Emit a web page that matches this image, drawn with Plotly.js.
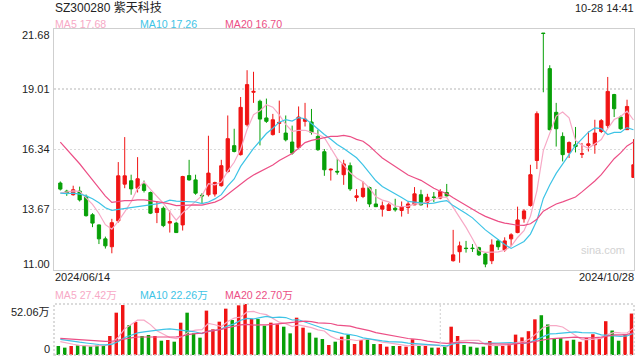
<!DOCTYPE html>
<html>
<head>
<meta charset="utf-8">
<script src="https://cdn.plot.ly/plotly-3.0.1.min.js"></script>
<style>html,body{margin:0;padding:0;background:#fff}#chart{width:640px;height:360px}</style>
</head>
<body>
<div id="chart"></div>
<script>
const dates = [
"2024/06/14","2024/06/17","2024/06/18","2024/06/19","2024/06/20","2024/06/21","2024/06/24","2024/06/25","2024/06/26","2024/06/27","2024/06/28",
"2024/07/01","2024/07/02","2024/07/03","2024/07/04","2024/07/05","2024/07/08","2024/07/09","2024/07/10","2024/07/11","2024/07/12",
"2024/07/15","2024/07/16","2024/07/17","2024/07/18","2024/07/19","2024/07/22","2024/07/23","2024/07/24","2024/07/25","2024/07/26",
"2024/07/29","2024/07/30","2024/07/31",
"2024/08/01","2024/08/02","2024/08/05","2024/08/06","2024/08/07","2024/08/08","2024/08/09","2024/08/12","2024/08/13","2024/08/14",
"2024/08/15","2024/08/16","2024/08/19","2024/08/20","2024/08/21","2024/08/22","2024/08/23","2024/08/26","2024/08/27","2024/08/28",
"2024/08/29","2024/08/30",
"2024/09/02","2024/09/03","2024/09/04","2024/09/05","2024/09/06","2024/09/09","2024/09/10","2024/09/11","2024/09/12","2024/09/13",
"2024/09/18","2024/09/19","2024/09/20","2024/09/23","2024/09/24","2024/09/25","2024/09/26","2024/09/27","2024/09/30",
"2024/10/08","2024/10/09","2024/10/10","2024/10/11","2024/10/14","2024/10/15","2024/10/16","2024/10/17","2024/10/18",
"2024/10/21","2024/10/22","2024/10/23","2024/10/24","2024/10/25","2024/10/28"];

const open = [14.84,14.48,14.32,14.48,14.25,13.43,12.98,12.36,12.01,13.16,14.79,14.94,14.61,14.80,14.42,13.53,13.72,13.06,13.06,12.98,
15.17,14.98,14.30,14.32,14.35,14.72,15.35,16.50,16.10,17.43,18.87,18.47,17.73,16.99,17.49,17.06,16.66,16.42,17.58,17.55,
16.91,16.23,15.42,15.36,15.21,15.61,14.20,14.24,14.64,13.91,13.68,13.62,13.72,13.62,13.75,13.87,14.32,13.99,14.22,14.17,
14.42,11.39,11.79,11.95,11.95,11.97,11.69,11.39,12.27,11.87,12.36,12.64,13.25,13.84,15.84,21.50,19.92,17.98,16.91,16.20,
16.54,16.12,16.51,16.54,17.13,17.39,18.77,17.77,17.21,15.09];
const high = [14.91,14.54,14.72,14.68,14.33,13.50,13.00,12.46,13.25,15.77,16.88,15.21,15.99,14.95,14.46,14.02,13.80,13.62,13.12,15.16,
15.87,15.21,14.39,16.94,14.90,15.87,17.84,17.25,18.66,19.85,19.78,18.54,18.59,17.91,18.50,17.84,17.39,18.24,18.40,18.13,
17.21,16.35,15.49,15.92,15.87,15.75,14.57,14.91,14.68,14.57,14.02,13.95,14.14,14.02,14.02,14.66,14.54,14.36,14.44,14.57,
14.80,12.76,12.24,12.27,12.13,12.01,11.75,12.34,12.34,12.43,12.61,13.79,13.68,15.65,18.02,21.50,20.07,18.40,17.09,16.69,
17.33,16.62,17.13,17.65,17.68,19.55,18.80,17.83,18.54,16.79];
const low = [14.51,14.27,14.28,14.02,13.35,12.88,12.13,11.93,11.72,13.08,14.61,14.32,14.42,14.42,13.46,13.06,12.88,12.64,12.62,12.73,
14.94,14.32,13.91,14.24,14.24,14.68,15.28,16.20,16.06,17.35,18.40,16.51,17.51,16.95,17.06,16.69,16.10,16.39,17.35,16.99,
16.27,15.16,14.95,15.21,14.76,14.49,14.02,14.17,13.77,13.77,13.35,13.60,13.57,13.35,13.47,13.86,13.84,13.75,13.99,14.12,
14.24,11.35,11.30,11.75,11.78,11.60,11.10,11.24,11.87,11.79,12.05,12.61,13.08,13.79,15.46,18.87,17.18,16.46,15.80,15.95,
16.20,15.95,16.24,16.14,17.06,17.28,17.77,17.21,17.21,15.09];
const close = [14.57,14.38,14.54,14.09,13.39,13.06,12.36,12.05,13.08,15.16,15.16,14.58,15.03,14.51,13.50,13.72,12.95,13.13,12.64,15.13,
14.98,14.39,14.27,15.28,14.86,15.61,16.81,16.24,18.20,19.21,18.91,17.68,17.58,17.65,17.53,16.76,16.17,17.77,17.68,17.09,
16.32,15.43,15.45,15.33,15.69,14.58,14.27,14.61,13.91,13.79,13.83,13.87,13.65,13.79,13.91,14.36,13.87,14.21,14.20,14.46,
14.27,11.65,12.05,11.93,11.93,11.65,11.24,12.09,12.01,12.27,12.54,13.20,13.60,15.21,17.92,21.48,17.21,17.25,16.10,16.64,
16.46,16.14,16.58,17.06,17.61,18.91,18.14,17.25,18.24,15.65];
// volume in 万 shares
const volume = [9.2,7.5,9.2,9.9,9.9,8.9,9.9,9.9,19.4,43.2,51.0,30.6,33.7,19.4,20.4,19.4,14.6,15.3,13.6,33.0,
43.2,22.1,17.7,45.3,26.2,34.0,47.3,35.7,50.7,52.06,36.7,36.7,29.9,33.0,31.3,28.9,22.1,38.1,27.9,22.8,
17.7,16.3,10.2,13.6,18.7,20.4,11.2,15.3,16.0,11.2,11.2,8.5,9.2,9.2,8.5,16.0,9.2,9.2,7.5,7.5,
8.5,28.9,19.4,10.2,8.5,7.5,8.5,14.3,9.2,9.2,11.4,20.8,18.0,24.3,36.4,40.6,31.2,17.3,17.3,14.6,
15.6,13.5,17.3,21.2,17.3,34.5,25.0,14.6,20.8,42.3];
// estimated closes / volumes of the 19 sessions before the window (feed the moving averages)
const closePrior = [20.5,20.8,21.0,20.6,20.2,19.6,19.2,18.7,14.5,14.2,14.6,14.3,14.5,14.2,14.35,14.1,14.3,14.2,14.78];
const volPrior = [17,19,20,18,16,19,17,18,20,16,19,17,20,18,18,16,14,15,13.8];

const priceTicks = [21.68, 19.01, 16.34, 13.67, 11.00];
const volTicks = ["52.06万", "0"];
const maPeriods = [5, 10, 20];
const priceMaLabels = ["MA5 17.68", "MA10 17.26", "MA20 16.70"];
const volMaLabels = ["MA5 27.42万", "MA10 22.26万", "MA20 22.70万"];
const titleText = "SZ300280 紫天科技";
const timeText = "10-28 14:41";
const separatorIndex = 59;

const RED = '#f01414', GREEN = '#08a008';
const maColors = ['#f7a9c6', '#3ec4e6', '#ec4f86'];
const FONT = 'Liberation Sans, Arial, Noto Sans CJK SC, sans-serif';

function movingAvg(vals, prior, n) {
  const all = prior.concat(vals);
  return vals.map((_, i) => {
    let s = 0;
    for (let k = 0; k < n; k++) s += all[prior.length + i - k];
    return s / n;
  });
}

const idx = dates.map((_, i) => i);
const traces = [];
traces.push({
  type: 'candlestick', x: idx, open: open, high: high, low: low, close: close,
  xaxis: 'x', yaxis: 'y', hoverinfo: 'skip',
  increasing: {line: {color: RED, width: 1}, fillcolor: RED},
  decreasing: {line: {color: GREEN, width: 1}, fillcolor: GREEN},
  whiskerwidth: 0
});
maPeriods.forEach((n, k) => {
  traces.push({type: 'scatter', mode: 'lines', x: idx, y: movingAvg(close, closePrior, n),
    xaxis: 'x', yaxis: 'y', line: {color: maColors[k], width: 1.2}, hoverinfo: 'skip'});
});
traces.push({
  type: 'bar', x: idx, y: volume, xaxis: 'x', yaxis: 'y2', width: 0.54, offset: -0.58,
  marker: {color: idx.map(i => close[i] >= open[i] ? RED : GREEN), line: {width: 0}}, hoverinfo: 'skip'
});
maPeriods.forEach((n, k) => {
  traces.push({type: 'scatter', mode: 'lines', x: idx, y: movingAvg(volume, volPrior, n),
    xaxis: 'x', yaxis: 'y2', line: {color: maColors[k], width: 1.2}, hoverinfo: 'skip'});
});

// pixel helpers for the fixed 640x360 canvas (plot area 54..634 x 29..355)
const L = 54, R = 6, T = 29, B = 5, W = 640 - L - R, H = 360 - T - B;
const px = X => (X - L) / W;
const py = Y => (360 - B - Y) / H;
const mainBottom = py(269.5);
const volTop = py(304);

const ann = [];
function txt(text, X, Y, anchor, size, color) {
  ann.push({text: text, xref: 'paper', yref: 'paper', x: px(X), y: py(Y), xanchor: anchor, yanchor: 'middle',
    showarrow: false, borderpad: 0, font: {family: FONT, size: size, color: color}});
}
txt(titleText, 54, 8, 'left', 12, '#222');
txt(timeText, 635, 8, 'right', 11, '#222');
const legX = [54, 139, 224];
priceMaLabels.forEach((t, k) => txt(t, legX[k], 24.5, 'left', 10.6, maColors[k]));
volMaLabels.forEach((t, k) => txt(t, legX[k], 295, 'left', 10.6, maColors[k]));
txt(dates[0], 54, 277, 'left', 11, '#222');
txt(dates[dates.length - 1], 635, 277, 'right', 11, '#222');
priceTicks.forEach((v, k) => {
  const ys = k === 0 ? -5.5 : (k === priceTicks.length - 1 ? 6 : 0);
  ann.push({text: v.toFixed(2), xref: 'paper', yref: 'y', x: 0, y: v, xanchor: 'right', yanchor: 'middle',
    xshift: -3, yshift: ys, showarrow: false, borderpad: 0, font: {family: FONT, size: 11, color: '#222'}});
});
txt(volTicks[0], 51, 312, 'right', 11, '#222');
txt(volTicks[1], 51, 349, 'right', 11, '#222');
txt('sina.com', 602.5, 249.5, 'center', 11, '#d2d2d2');

const layout = {
  width: 640, height: 360,
  margin: {l: L, r: R, t: T, b: B},
  paper_bgcolor: '#fff', plot_bgcolor: '#fff',
  showlegend: false, dragmode: false, boxgap: 0.28,
  xaxis: {range: [-0.98, 89.08], showticklabels: false, ticks: '', showgrid: false, zeroline: false,
    showline: true, mirror: true, linecolor: '#cfcfcf', linewidth: 1, anchor: 'y',
    rangeslider: {visible: false}, fixedrange: true},
  yaxis: {domain: [mainBottom, 1], range: [11.00, 21.68], tickvals: priceTicks.slice(1, 4),
    showticklabels: false, ticks: '', showgrid: true, gridcolor: '#dadada', griddash: '2px,2px', gridwidth: 1.5,
    zeroline: false, showline: true, mirror: true, linecolor: '#cfcfcf', linewidth: 1, fixedrange: true},
  yaxis2: {domain: [0, volTop], range: [0, 52.06], showticklabels: false, ticks: '', showgrid: false,
    zeroline: false, showline: false, fixedrange: true},
  shapes: [
    {type: 'rect', xref: 'paper', yref: 'paper', x0: 0, x1: 1, y0: 0, y1: volTop,
      line: {color: '#cfcfcf', width: 1.5, dash: '2px,2px'}},
    {type: 'line', xref: 'x', yref: 'paper', x0: separatorIndex, x1: separatorIndex, y0: 0, y1: volTop,
      line: {color: '#cfcfcf', width: 1, dash: '2px,2px'}}
  ],
  annotations: ann
};

Plotly.newPlot('chart', traces, layout, {displayModeBar: false, staticPlot: true});
</script>
</body>
</html>
